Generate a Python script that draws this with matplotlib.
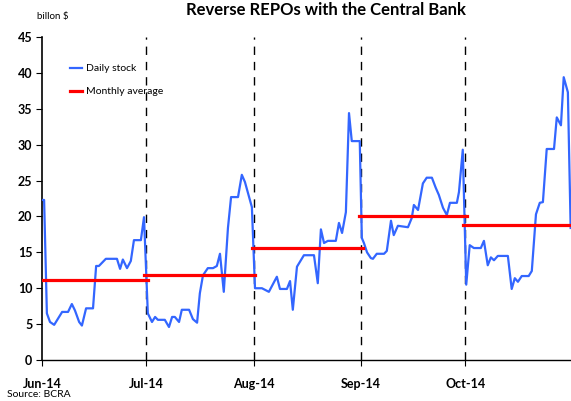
import matplotlib
matplotlib.use("Agg")
import matplotlib.pyplot as plt

plt.rcParams['font.family'] = ['Lato', 'DejaVu Sans']

# days counted from 1 Jun 2014
day = [0, 0.6, 1.4, 2.3, 3.5, 5.8, 7.5, 8.6, 9.5, 10.7, 11.5, 12.7, 14.7, 15.6, 16.4,
       18.4, 21.6, 22.5, 23.3, 24.5, 25.6, 26.5, 28.5, 29.4, 30.5, 31.7, 32.6, 33.4,
       35.4, 36.6, 37.5, 38.3, 39.5, 40.3, 42.4, 43.5, 44.7, 45.5, 46.4, 47.8, 49.3,
       50.4, 51.3, 52.4, 53.6, 54.5, 56.5, 57.6, 58.5, 60.5, 61.4, 63.4, 65.4, 67.7,
       68.6, 70.6, 71.5, 72.3, 73.5, 75.5, 78.4, 79.5, 80.4, 81.3, 82.4, 84.7, 85.6,
       86.5, 87.6, 88.5, 89.3, 91.6, 92.2, 92.8, 93.7, 94.8, 95.4, 96.5, 98.6, 99.4,
       100.6, 101.4, 102.6, 105.5, 106.6, 107.2, 108.4, 109.8, 110.9, 112.4, 113.5,
       114.4, 115.6, 116.7, 117.6, 119.6, 120.2, 121.3, 122.3, 123.3, 124.5, 126.5,
       127.4, 128.5, 129.4, 130.3, 131.4, 134.3, 135.4, 136.3, 137.2, 138.3, 140.3,
       141.2, 142.4, 143.5, 144.4, 145.5, 147.6, 148.4, 149.6, 150.4, 151.6, 152.4]
stock = [22.3, 22.3, 6.5, 5.3, 4.9, 6.7, 6.7, 7.8, 6.9, 5.3, 4.8, 7.2, 7.2, 13.1, 13.1,
         14.1, 14.1, 12.7, 14.0, 12.8, 13.8, 16.7, 16.7, 19.9, 6.5, 5.3, 6.0, 5.6,
         5.6, 4.6, 6.0, 6.0, 5.3, 7.0, 7.0, 5.7, 5.2, 9.3, 11.8, 12.8, 12.8,
         13.1, 14.8, 9.5, 18.4, 22.7, 22.7, 25.8, 24.8, 21.3, 10.0, 10.0, 9.5, 11.6,
         9.9, 9.9, 11.0, 7.0, 13.0, 14.6, 14.6, 10.7, 18.2, 16.3, 16.6, 16.6, 19.1,
         17.7, 20.6, 34.4, 30.5, 30.5, 17.0, 16.3, 15.0, 14.2, 14.1, 14.8, 14.8, 15.2,
         19.4, 17.4, 18.7, 18.5, 19.8, 21.6, 20.9, 24.6, 25.4, 25.4, 24.0,
         23.0, 21.2, 20.2, 21.9, 21.9, 23.4, 29.3, 10.5, 16.0, 15.6, 15.6,
         16.6, 13.2, 14.3, 13.9, 14.5, 14.5, 9.9, 11.4, 10.9, 11.7, 11.7,
         12.4, 20.3, 21.9, 22.0, 29.4, 29.4, 33.8, 32.7, 39.4, 37.3, 18.4]

month_start = [0, 30, 61, 92, 122, 153]
month_labels = ['Jun-14', 'Jul-14', 'Aug-14', 'Sep-14', 'Oct-14']
month_avg = [11.1, 11.9, 15.6, 20.0, 18.8]

fig = plt.figure(figsize=(5.71, 4.01), dpi=100)
ax = fig.add_axes([0.0736, 0.1022, 0.9264, 0.8055])

ax.plot(day, stock, color='#3366ff', lw=1.6, label='Daily stock', zorder=3)
for i, avg in enumerate(month_avg):
    ax.plot([month_start[i] - 0.5, month_start[i + 1] + 0.5], [avg, avg],
            color='#ff0000', lw=2.3, zorder=4,
            label='Monthly average' if i == 0 else None)
for m in month_start[1:-1]:
    ax.axvline(m, color='black', lw=1.0, ls=(0, (6, 5)), zorder=2)

ax.set_xlim(0, 152.5)
ax.set_ylim(0, 45)
ax.set_yticks(range(0, 46, 5))
ax.set_xticks(month_start[:-1])
ax.set_xticklabels(month_labels)
for lab in ax.get_xticklabels() + ax.get_yticklabels():
    lab.set_fontweight('bold')
    lab.set_fontsize(9)
ax.tick_params(axis='x', length=4, pad=9)
ax.tick_params(axis='y', length=4, pad=3)
ax.spines['top'].set_visible(False)
ax.spines['right'].set_visible(False)
ax.spines['left'].set_linewidth(1.2)
ax.spines['bottom'].set_linewidth(1.0)

leg = ax.legend(loc='upper left', bbox_to_anchor=(0.035, 0.945), frameon=False,
                fontsize=7.5, handlelength=1.2, handletextpad=0.3, labelspacing=1.3)

fig.text(0.57, 0.995, 'Reverse REPOs with the Central Bank', ha='center', va='top',
         fontsize=12, fontweight='bold')
fig.text(0.065, 0.97, 'billon $', ha='left', va='top', fontsize=7)
fig.text(0.012, 0.004, 'Source: BCRA', ha='left', va='bottom', fontsize=7.5)

fig.savefig('out.png', dpi=100)
